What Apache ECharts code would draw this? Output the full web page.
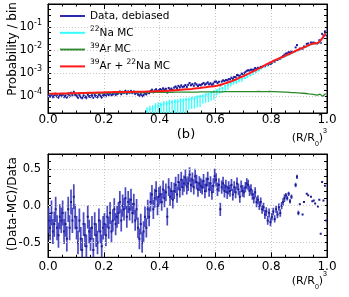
<!DOCTYPE html>
<html><head><meta charset="utf-8">
<script src="https://cdn.jsdelivr.net/npm/echarts@6/dist/echarts.min.js"></script>
<style>html,body{margin:0;padding:0;background:#fff}#c{width:349px;height:297px}</style>
</head><body><div id="c"></div>
<script>
// ---------- data ----------
const BIN_W = 0.005;      // data / residual bins
const MC_BIN_W = 0.01;    // MC curves bins
const NA_START = 0.35;    // first 22Na MC bin edge

// log10(probability / bin) of debiased data, 200 bins
const dataLog = [
 -3.99,-4.02,-3.95,-4.04,-4.01,-3.93,-4.02,-4.06,-3.97,-3.99,
 -3.94,-4.03,-4.00,-4.06,-3.92,-4.01,-3.88,-3.98,-3.84,-3.96,
 -4.00,-4.07,-3.97,-4.05,-4.09,-3.99,-4.04,-4.08,-3.95,-4.02,
 -4.03,-3.98,-4.07,-3.97,-4.02,-4.05,-3.95,-4.00,-4.06,-3.98,
 -3.95,-4.00,-3.91,-3.96,-3.89,-3.98,-3.93,-3.87,-3.95,-3.91,
 -3.88,-3.82,-3.92,-3.84,-3.86,-3.79,-3.90,-3.82,-3.86,-3.80,
 -3.87,-3.82,-3.91,-3.85,-3.94,-3.99,-3.93,-4.01,-3.96,-3.89,
 -3.93,-3.84,-3.88,-3.79,-3.74,-3.84,-3.77,-3.72,-3.81,-3.76,
 -3.71,-3.76,-3.68,-3.74,-3.70,-3.85,-3.66,-3.73,-3.69,-3.75,
 -3.64,-3.60,-3.67,-3.57,-3.63,-3.55,-3.62,-3.59,-3.53,-3.61,
 -3.52,-3.44,-3.54,-3.49,-3.56,-3.46,-3.51,-3.57,-3.52,-3.54,
 -3.49,-3.44,-3.51,-3.47,-3.42,-3.50,-3.46,-3.52,-3.47,-3.39,
 -3.38,-3.44,-3.39,-3.54,-3.38,-3.33,-3.36,-3.31,-3.33,-3.28,
 -3.28,-3.21,-3.26,-3.18,-3.19,-3.10,-3.11,-3.14,-3.04,-3.04,
 -3.03,-2.97,-2.91,-2.89,-2.90,-2.86,-2.87,-2.86,-2.79,-2.83,
 -2.78,-2.79,-2.74,-2.74,-2.70,-2.71,-2.65,-2.67,-2.60,-2.62,
 -2.56,-2.50,-2.51,-2.44,-2.44,-2.38,-2.38,-2.32,-2.27,-2.21,
 -2.16,-2.15,-2.10,-2.12,-2.06,null,null,-1.89,-1.79,-2.01,
 -1.94,null,-1.95,-1.85,null,-1.74,-1.72,null,-1.68,-1.69,
 -1.68,-1.70,null,-1.70,-1.58,-1.69,-1.30,-1.37,-1.19,-1.36
];

// (Data-MC)/Data, 200 bins
const residual = [
 -0.20,-0.30,-0.10,-0.35,-0.25,-0.05,-0.30,-0.40,-0.15,-0.20,
 -0.10,-0.35,-0.25,-0.45,-0.05,-0.30,0.05,-0.20,0.12,-0.15,
 -0.30,-0.50,-0.20,-0.45,-0.60,-0.25,-0.40,-0.55,-0.15,-0.35,
 -0.45,-0.30,-0.60,-0.25,-0.40,-0.50,-0.20,-0.35,-0.55,-0.30,
 -0.25,-0.40,-0.15,-0.30,-0.10,-0.35,-0.20,-0.05,-0.25,-0.15,
 -0.10,0.05,-0.20,0.00,-0.05,0.10,-0.15,0.05,-0.05,0.08,
 -0.10,0.02,-0.20,-0.05,-0.30,-0.45,-0.25,-0.50,-0.35,-0.15,
 -0.30,-0.05,-0.15,0.05,0.15,-0.05,0.10,0.20,0.00,0.12,
 0.15,0.05,0.22,0.10,0.18,-0.15,0.25,0.12,0.20,0.08,
 0.20,0.28,0.15,0.32,0.22,0.35,0.25,0.30,0.38,0.26,
 0.30,0.42,0.28,0.35,0.25,0.40,0.32,0.22,0.30,0.27,
 0.25,0.33,0.20,0.28,0.36,0.22,0.30,0.18,0.27,0.40,
 0.35,0.22,0.28,-0.05,0.25,0.30,0.20,0.26,0.18,0.24,
 0.20,0.28,0.15,0.25,0.18,0.30,0.22,0.12,0.26,0.20,
 0.18,0.25,0.30,0.28,0.20,0.22,0.15,0.10,0.18,0.05,
 0.08,0.00,0.05,-0.05,-0.02,-0.12,-0.08,-0.20,-0.10,-0.22,
 -0.15,-0.08,-0.18,-0.05,-0.12,-0.02,-0.10,0.00,0.05,0.10,
 0.14,0.10,0.16,0.06,0.12,null,null,0.28,0.39,-0.10,
 0.02,null,-0.12,0.05,null,0.16,0.14,null,0.12,0.06,
 0.07,0.03,null,-0.01,0.08,-0.38,0.32,0.07,0.27,-0.20
];
// error (half length) of the residual, one value per 0.05 wide group of bins
const residualErr = [0.17,0.17,0.16,0.16,0.15,0.15,0.14,0.13,0.12,0.11,
                     0.10,0.10,0.09,0.08,0.07,0.06,0.05,0.03,0,0];

// 39Ar + 22Na MC, log10, 100 bins
const sumMcLog = [
 -3.91,-3.91,-3.90,-3.91,-3.90,-3.90,-3.90,-3.89,-3.89,-3.89,
 -3.89,-3.88,-3.88,-3.88,-3.87,-3.87,-3.87,-3.86,-3.86,-3.86,
 -3.85,-3.85,-3.85,-3.84,-3.84,-3.84,-3.84,-3.83,-3.83,-3.83,
 -3.83,-3.82,-3.82,-3.82,-3.82,-3.81,-3.81,-3.81,-3.80,-3.80,
 -3.80,-3.79,-3.78,-3.78,-3.77,-3.76,-3.75,-3.74,-3.73,-3.72,
 -3.71,-3.70,-3.68,-3.67,-3.66,-3.64,-3.63,-3.61,-3.60,-3.58,
 -3.56,-3.53,-3.50,-3.46,-3.42,-3.38,-3.33,-3.28,-3.22,-3.17,
 -3.12,-3.06,-3.00,-2.94,-2.88,-2.82,-2.76,-2.69,-2.62,-2.56,
 -2.50,-2.44,-2.39,-2.34,-2.29,-2.23,-2.18,-2.12,-2.06,-2.00,
 -1.95,-1.90,-1.85,-1.79,-1.74,-1.71,-1.72,-1.62,-1.47,-1.28
];
// 39Ar MC, log10, 100 bins
const arMcLog = [
 -3.92,-3.92,-3.91,-3.92,-3.91,-3.91,-3.91,-3.90,-3.90,-3.90,
 -3.90,-3.90,-3.89,-3.89,-3.89,-3.89,-3.88,-3.88,-3.88,-3.88,
 -3.88,-3.88,-3.87,-3.87,-3.87,-3.87,-3.87,-3.87,-3.86,-3.86,
 -3.86,-3.86,-3.86,-3.86,-3.86,-3.86,-3.85,-3.85,-3.85,-3.85,
 -3.85,-3.85,-3.85,-3.85,-3.85,-3.84,-3.84,-3.84,-3.84,-3.84,
 -3.84,-3.84,-3.84,-3.84,-3.83,-3.83,-3.83,-3.83,-3.83,-3.83,
 -3.83,-3.83,-3.83,-3.82,-3.82,-3.82,-3.82,-3.82,-3.82,-3.82,
 -3.82,-3.82,-3.82,-3.82,-3.82,-3.81,-3.82,-3.82,-3.82,-3.81,
 -3.82,-3.82,-3.83,-3.83,-3.84,-3.84,-3.85,-3.86,-3.86,-3.87,
 -3.88,-3.89,-3.90,-3.92,-3.93,-3.95,-3.97,-3.93,-4.02,-3.90
];
// 22Na MC, log10, 0.01 bins starting at 0.35
const naMcLog = [
 -4.65,-4.58,-4.56,-4.47,-4.43,
 -4.40,-4.35,-4.34,-4.29,-4.29,
 -4.25,-4.25,-4.21,-4.21,-4.17,
 -4.16,-4.12,-4.11,-4.06,-4.04,
 -4.00,-3.95,-3.93,-3.86,-3.82,
 -3.77,-3.70,-3.66,-3.58,-3.53,
 -3.47,-3.40,-3.37,-3.30,-3.27,
 -3.22,-3.16,-3.10,-3.03,-2.96,
 -2.89,-2.81,-2.73,-2.65,-2.58,
 -2.52,-2.46,-2.41,-2.36,-2.31,
 -2.25,-2.20,-2.14,-2.08,-2.02,
 -1.97,-1.92,-1.87,-1.81,-1.76,
 -1.73,-1.74,-1.64,-1.49,-1.30
];
// 22Na MC error bar extents in decades, one per 0.05 group from 0.35
const naErrDown = [1.2,1.0,0.6,0.45,0.35,0.22,0.12,0.06,0.04,0.03,0.02,0.02,0.02];
const naErrUp   = [0.15,0.12,0.10,0.08,0.06,0.05,0.04,0.03,0.02,0.02,0.02,0.02,0.02];

const yDecades = [-4,-3,-2,-1];
const residualGrid = [-0.5,0,0.5];
const seriesNames = ['Data, debiased','22Na MC','39Ar MC','39Ar + 22Na MC'];
const legendRich = {
 'Data, debiased':'Data, debiased',
 '22Na MC':'{sup|22}Na MC',
 '39Ar MC':'{sup|39}Ar MC',
 '39Ar + 22Na MC':'{sup|39}Ar + {sup|22}Na MC'
};

// ---------- build library data ----------
const C_BLUE='#2b2bb0', C_BLUE_BAR='#3636bc', C_CYAN='#33ffff', C_GREEN='#2a8a2a', C_RED='#ff1a1a';
const dataPts=[], resPts=[];
dataLog.forEach((v,i)=>{ if(v==null) return;
  const x=(i+0.5)*BIN_W, e=residualErr[Math.floor(i/10)];
  dataPts.push([x, v, v+Math.log10(1-e), v+Math.log10(1+e)]);
});
residual.forEach((v,i)=>{ if(v==null) return;
  const x=(i+0.5)*BIN_W, e=residualErr[Math.floor(i/10)];
  resPts.push([x, v, v-e, v+e]);
});
const sumPts = sumMcLog.map((v,i)=>[(i+0.5)*MC_BIN_W, v]);
const arPts = arMcLog.map((v,i)=>[(i+0.5)*MC_BIN_W, v]);
const naPts = naMcLog.map((v,i)=>{ const g=Math.floor(i/5);
  return [NA_START+(i+0.5)*MC_BIN_W, v, v-naErrDown[g], v+naErrUp[g]]; });

function errBar(markColor, barColor, ms, bw, opacity){
  return function(params, api){
    const x=api.value(0), y=api.value(1), lo=api.value(2), hi=api.value(3);
    const p=api.coord([x,y]), pl=api.coord([x,lo]), ph=api.coord([x,hi]);
    const ch=[];
    if (Math.abs(pl[1]-ph[1])>0.5) ch.push({type:'line', shape:{x1:p[0],y1:pl[1],x2:p[0],y2:ph[1]},
      style:{stroke:barColor, lineWidth:bw, opacity:opacity}});
    ch.push({type:'rect', shape:{x:p[0]-ms/2,y:p[1]-ms/2,width:ms,height:ms}, style:{fill:markColor}});
    return {type:'group', children:ch};
  };
}

const FONT='DejaVu Sans';
const gridLine={color:'#c8c8c8', type:[1,2], width:1};
function xAx(grid, pos, labels, margin){
  return {type:'value', gridIndex:grid, position:pos, min:0, max:1, interval:0.2,
    axisLine:{show:true, onZero:false, lineStyle:{color:'#000'}},
    axisTick:{show:true, inside:true, length:5, lineStyle:{color:'#000'}},
    minorTick:{show:true, splitNumber:4, length:2.5, lineStyle:{color:'#000'}},
    axisLabel:{show:labels, margin:margin, color:'#000', fontFamily:FONT, fontSize:12,
      formatter:v=>v.toFixed(1)},
    splitLine:{show:labels, lineStyle:gridLine}};
}
const supRich = {b:{fontFamily:FONT, fontSize:11.5, lineHeight:16, color:'#000'},
                 sup:{fontFamily:FONT, fontSize:8, lineHeight:8, verticalAlign:'top', color:'#000'}};
function yTop(pos, labels){
  return {type:'value', gridIndex:0, position:pos, min:-4.75, max:0, interval:0.25,
    axisLine:{show:true, onZero:false, lineStyle:{color:'#000'}},
    axisTick:{show:true, inside:true, length:3, lineStyle:{color:'#000'}},
    axisLabel:{show:labels, margin:6, rich:supRich, formatter:v=>{
      const r=Math.round(v); return (Math.abs(v-r)<1e-6 && r<0) ? '{b|10}{sup|'+r+'}' : ''; }},
    splitLine:{show:false}};
}
function yBot(pos, labels){
  return {type:'value', gridIndex:1, position:pos, min:-0.7, max:0.7, interval:0.1,
    axisLine:{show:true, onZero:false, lineStyle:{color:'#000'}},
    axisTick:{show:true, inside:true, length:3, lineStyle:{color:'#000'}},
    axisLabel:{show:labels, margin:7, color:'#000', fontFamily:FONT, fontSize:11.5, formatter:v=>{
      const h=Math.round(v*2)/2; return Math.abs(v-h)<1e-6 ? h.toFixed(1) : ''; }},
    splitLine:{show:false}};
}

const chart=echarts.init(document.getElementById('c'), null, {renderer:'canvas'});
chart.setOption({
  animation:false,
  backgroundColor:'#fff',
  textStyle:{fontFamily:FONT},
  grid:[{left:48, right:22, top:4, height:109, show:true, borderColor:'#000', borderWidth:1},
        {left:48, right:22, top:154, height:103.3, show:true, borderColor:'#000', borderWidth:1}],
  xAxis:[xAx(0,'bottom',true,1), xAx(0,'top',false,0), xAx(1,'bottom',true,3.5), xAx(1,'top',false,0)],
  yAxis:[yTop('left',true), yTop('right',false), yBot('left',true), yBot('right',false)],
  legend:{orient:'vertical', left:60, top:8, padding:0, itemWidth:25, itemHeight:2, itemGap:0.8,
    selectedMode:false,
    data:[{name:seriesNames[0], icon:'rect', itemStyle:{color:C_BLUE}},
          {name:seriesNames[1], icon:'rect', itemStyle:{color:C_CYAN}},
          {name:seriesNames[2], icon:'rect', itemStyle:{color:C_GREEN}},
          {name:seriesNames[3], icon:'rect', itemStyle:{color:C_RED}}],
    formatter:n=>legendRich[n],
    textStyle:{fontFamily:FONT, fontSize:10.5, lineHeight:16, color:'#000',
      rich:{sup:{fontFamily:FONT, fontSize:7.5, lineHeight:8, verticalAlign:'top', color:'#000'}}}},
  graphic:[
    {type:'text', x:12.5, y:49, rotation:Math.PI/2, style:{text:'Probability / bin', fontFamily:FONT, fontSize:12, fill:'#000', align:'center', verticalAlign:'middle'}},
    {type:'text', x:12.5, y:204, rotation:Math.PI/2, style:{text:'(Data-MC)/Data', fontFamily:FONT, fontSize:12, fill:'#000', align:'center', verticalAlign:'middle'}},
    {type:'text', x:186, y:135, style:{text:'(b)', fontFamily:FONT, fontSize:13, fill:'#000', align:'center', verticalAlign:'middle'}},
    {type:'text', x:327, y:138, style:{text:'(R/R{sub|0}){sup|3}', fontFamily:FONT, fontSize:11, lineHeight:20, fill:'#000', align:'right', verticalAlign:'middle',
      rich:{sub:{fontSize:7, lineHeight:8, verticalAlign:'bottom'}, sup:{fontSize:7, lineHeight:8, verticalAlign:'top'}}}},
    {type:'text', x:327, y:281, style:{text:'(R/R{sub|0}){sup|3}', fontFamily:FONT, fontSize:11, lineHeight:20, fill:'#000', align:'right', verticalAlign:'middle',
      rich:{sub:{fontSize:7, lineHeight:8, verticalAlign:'bottom'}, sup:{fontSize:7, lineHeight:8, verticalAlign:'top'}}}}
  ],
  series:[
    {type:'line', name:'grid-top', xAxisIndex:0, yAxisIndex:0, data:[], z:1, silent:true,
      markLine:{silent:true, symbol:'none', label:{show:false}, lineStyle:gridLine, animation:false,
        data:yDecades.map(v=>({yAxis:v}))}},
    {type:'line', name:'grid-bottom', xAxisIndex:2, yAxisIndex:2, data:[], z:1, silent:true,
      markLine:{silent:true, symbol:'none', label:{show:false}, lineStyle:gridLine, animation:false,
        data:residualGrid.map(v=>({yAxis:v}))}},
    {type:'custom', name:seriesNames[0], xAxisIndex:0, yAxisIndex:0, clip:true, z:3,
      itemStyle:{color:C_BLUE}, renderItem:errBar('#1e1e9c',C_BLUE,2,1,0.9), data:dataPts, encode:{x:0,y:1}},
    {type:'custom', name:seriesNames[1], xAxisIndex:0, yAxisIndex:0, clip:true, z:4,
      itemStyle:{color:C_CYAN}, renderItem:errBar(C_CYAN,C_CYAN,2,1.3,1), data:naPts, encode:{x:0,y:1}},
    {type:'line', name:seriesNames[2], xAxisIndex:0, yAxisIndex:0, z:5, showSymbol:false, clip:true,
      itemStyle:{color:C_GREEN}, lineStyle:{color:C_GREEN, width:1.3}, data:arPts},
    {type:'line', name:seriesNames[3], xAxisIndex:0, yAxisIndex:0, z:6, showSymbol:false, clip:true,
      itemStyle:{color:C_RED}, lineStyle:{color:C_RED, width:2}, data:sumPts},
    {type:'custom', name:'residual', xAxisIndex:2, yAxisIndex:2, clip:true, z:3,
      itemStyle:{color:C_BLUE}, renderItem:errBar('#1c1c90',C_BLUE_BAR,2,1.7,0.9), data:resPts, encode:{x:0,y:1}}
  ]
});
</script></body></html>
